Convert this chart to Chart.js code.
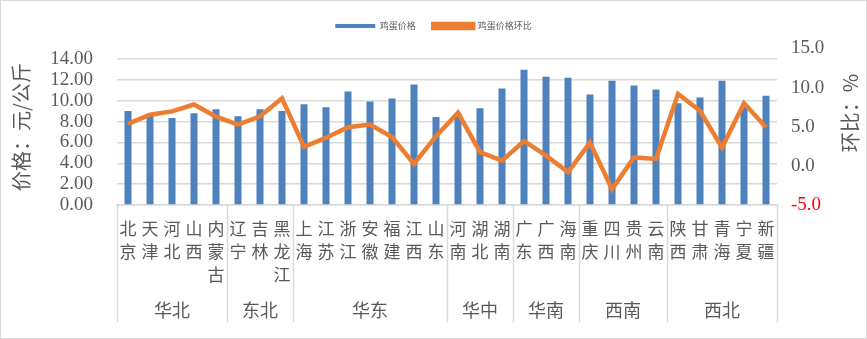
<!DOCTYPE html>
<html>
<head>
<meta charset="utf-8">
<script src="https://cdn.jsdelivr.net/npm/chart.js@4/dist/chart.umd.min.js"></script>
<style>
html,body{margin:0;padding:0;background:#fff;}
canvas{display:block;}
</style>
</head>
<body>
<canvas id="c" width="867" height="339"></canvas>
<script>
const provinces = ['北京','天津','河北','山西','内蒙古','辽宁','吉林','黑龙江','上海','江苏','浙江','安徽','福建','江西','山东','河南','湖北','湖南','广东','广西','海南','重庆','四川','贵州','云南','陕西','甘肃','青海','宁夏','新疆'];
const groupNames = ['华北','东北','华东','华中','华南','西南','西北'];
const groupSizes = [5,3,7,3,3,4,5];
const eggPrice = [9.0, 8.7, 8.35, 8.8, 9.18, 8.5, 9.18, 9.0, 9.65, 9.37, 10.88, 9.93, 10.2, 11.54, 8.43, 8.8, 9.28, 11.16, 12.96, 12.3, 12.2, 10.6, 11.92, 11.45, 11.07, 9.75, 10.3, 11.9, 9.4, 10.48];
const eggMoM = [5.36, 6.54, 6.96, 7.84, 6.29, 5.28, 6.33, 8.63, 2.43, 3.6, 4.94, 5.28, 3.69, 0.25, 3.8, 6.8, 1.75, 0.67, 3.18, 1.3, -0.8, 2.97, -2.98, 1.08, 0.88, 9.2, 7.04, 2.34, 8.0, 4.94];
const leftTicks = [0, 2, 4, 6, 8, 10, 12, 14];
const rightTicks = [-5, 0, 5, 10, 15];
const seriesNames = ['鸡蛋价格','鸡蛋价格环比'];
const leftTitle = '价格：元/公斤';
const rightTitle = '环比：%';

const TXT = '#595959';
const CJK = '"Noto Sans CJK SC", "Noto Sans", sans-serif';
const NUM = '"Liberation Serif", "DejaVu Serif", serif';

const legendSpace = {
  id: 'legendSpace',
  afterInit(chart) {
    if (!chart.legend) return;
    const orig = chart.legend.fit;
    chart.legend.fit = function () { orig.call(this); this.height += 8; };
  }
};

const extras = {
  id: 'extras',
  afterDraw(chart) {
    const ctx = chart.ctx;
    const x = chart.scales.x;
    ctx.save();
    const bottom = 322;
    let idx = 0;
    const edges = [x.left];
    groupSizes.forEach(n => {
      idx += n;
      if (idx < provinces.length) {
        edges.push((x.getPixelForValue(idx - 1) + x.getPixelForValue(idx)) / 2);
      } else {
        edges.push(x.right);
      }
    });
    ctx.strokeStyle = '#d9d9d9';
    ctx.lineWidth = 1.5;
    edges.forEach(e => {
      ctx.beginPath();
      ctx.moveTo(Math.round(e) + 0.5, x.top);
      ctx.lineTo(Math.round(e) + 0.5, bottom);
      ctx.stroke();
    });
    ctx.fillStyle = TXT;
    ctx.font = '18px ' + CJK;
    ctx.textAlign = 'center';
    ctx.textBaseline = 'middle';
    groupNames.forEach((g, i) => {
      ctx.fillText(g, (edges[i] + edges[i + 1]) / 2, 310);
    });
    ctx.font = '20px ' + CJK;
    ctx.save();
    ctx.translate(21, 127);
    ctx.rotate(-Math.PI / 2);
    ctx.fillText(leftTitle, 0, 0);
    ctx.restore();
    ctx.save();
    ctx.translate(850, 113);
    ctx.rotate(-Math.PI / 2);
    ctx.fillText(rightTitle, 0, 0);
    ctx.restore();
    ctx.strokeStyle = '#d9d9d9';
    ctx.lineWidth = 1;
    ctx.strokeRect(0.5, 0.5, chart.width - 1, chart.height - 1);
    ctx.restore();
  }
};

new Chart(document.getElementById('c'), {
  data: {
    labels: provinces.map(p => p.split('')),
    datasets: [
      {
        type: 'bar',
        label: seriesNames[0],
        data: eggPrice,
        backgroundColor: '#4F81BD',
        borderWidth: 0,
        yAxisID: 'y',
        barPercentage: 0.32,
        categoryPercentage: 1.0,
        order: 2
      },
      {
        type: 'line',
        label: seriesNames[1],
        data: eggMoM,
        borderColor: '#ED7D31',
        backgroundColor: '#ED7D31',
        borderWidth: 4.5,
        pointRadius: 0,
        tension: 0,
        yAxisID: 'y1',
        order: 1
      }
    ]
  },
  options: {
    responsive: false,
    animation: false,
    devicePixelRatio: 1,
    layout: { padding: { left: 0, right: 0, top: 4, bottom: 0 } },
    plugins: {
      tooltip: { enabled: false },
      legend: {
        position: 'top',
        labels: {
          boxWidth: 40,
          boxHeight: 4,
          padding: 17.5,
          color: TXT,
          font: { size: 9, family: CJK },
          sort: (a, b) => a.datasetIndex - b.datasetIndex
        }
      }
    },
    scales: {
      x: {
        type: 'category',
        offset: true,
        grid: { display: false, drawTicks: false },
        border: { display: true, color: '#d9d9d9', width: 1.5 },
        ticks: {
          color: TXT,
          autoSkip: false,
          maxRotation: 0,
          minRotation: 0,
          padding: 12.5,
          font: { size: 17, family: CJK, lineHeight: 1.35 }
        },
        afterFit(s) { s.height = 134; }
      },
      y: {
        position: 'left',
        min: 0,
        max: 15,
        grid: { color: '#d9d9d9', lineWidth: 1.5, drawTicks: false },
        border: { display: false },
        ticks: {
          autoSkip: false,
          padding: 24,
          color: TXT,
          font: { size: 19, family: NUM },
          callback: v => Number(v).toFixed(2)
        },
        afterBuildTicks(s) { s.ticks = leftTicks.map(v => ({ value: v })); },
        afterFit(s) { s.width = 117; }
      },
      y1: {
        position: 'right',
        min: -5,
        max: 15,
        grid: { display: false, drawTicks: false },
        border: { display: false },
        ticks: {
          autoSkip: false,
          padding: 14,
          color: c => (c.tick && c.tick.value < 0 ? '#FF0000' : TXT),
          font: { size: 19, family: NUM },
          callback: v => Number(v).toFixed(1)
        },
        afterBuildTicks(s) { s.ticks = rightTicks.map(v => ({ value: v })); },
        afterFit(s) { s.width = 90; }
      }
    }
  },
  plugins: [legendSpace, extras]
});
</script>
</body>
</html>
